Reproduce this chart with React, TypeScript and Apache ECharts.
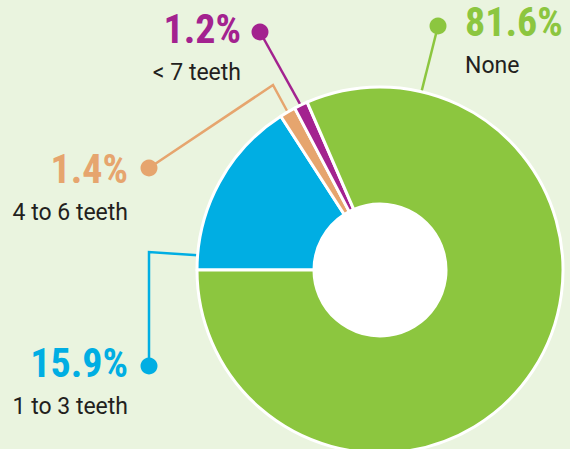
import React, { useEffect, useRef } from "react";
import * as echarts from "echarts";

const categories = ["1 to 3 teeth", "4 to 6 teeth", "< 7 teeth", "None"];
const values = [15.9, 1.4, 1.2, 81.6];
const valueLabels = ["15.9%", "1.4%", "1.2%", "81.6%"];
const colors = ["#00aee3", "#e6a56e", "#a3228f", "#8cc63f"];

const CX = 380;
const CY = 270;
const R_OUT = 183;
const R_IN = 66;

// annotation layout: label anchor, align, leader start angle (deg), elbows, dot
const annos = [
  { x: 128, y: 342, align: "right", angle: 175.4, via: [[149, 252]], dot: [149, 366] },
  { x: 128, y: 148, align: "right", angle: 120.3, via: [[273, 85]], dot: [149, 168] },
  { x: 241, y: 8, align: "right", angle: 115.7, via: [], dot: [260, 32] },
  { x: 465, y: 1, align: "left", angle: 76.9, via: [], dot: [438, 26] },
];

const startPoint = (deg: number) => {
  const a = (deg * Math.PI) / 180;
  return [CX + R_OUT * Math.cos(a), CY - R_OUT * Math.sin(a)];
};

export default function App() {
  const ref = useRef<HTMLDivElement>(null);
  useEffect(() => {
    document.body.style.margin = "0";
    const chart = echarts.init(ref.current!, undefined, { renderer: "svg" });
    const pctFont = "'Roboto Condensed', 'Liberation Sans Narrow', 'Arial Narrow', Roboto, sans-serif";
    const rich: any = {
      n: { fontSize: 23, fontFamily: "Roboto, sans-serif", color: "#231f20", lineHeight: 44 },
    };
    colors.forEach((c, i) => {
      rich["p" + i] = { fontSize: 40, fontWeight: "bold", fontFamily: pctFont, color: c, lineHeight: 42 };
    });
    chart.setOption({
      animation: false,
      backgroundColor: "#eaf4df",
      graphic: annos.map((a, i) => ({
        type: "circle",
        shape: { cx: a.dot[0], cy: a.dot[1], r: 8.5 },
        style: { fill: colors[i] },
        z: 10,
      })),
      series: [
        {
          type: "pie",
          center: [CX, CY],
          radius: [R_IN, R_OUT],
          startAngle: 180,
          clockwise: true,
          avoidLabelOverlap: false,
          itemStyle: { borderColor: "#ffffff", borderWidth: 3 },
          data: categories.map((c, i) => ({
            name: c,
            value: values[i],
            itemStyle: { color: colors[i] },
            labelLine: { lineStyle: { color: colors[i], width: 2.5 } },
          })),
          label: {
            show: true,
            position: "outside",
            formatter: (p: any) => `{p${p.dataIndex}|${valueLabels[p.dataIndex]}}\n{n|${p.name}}`,
            rich,
          },
          labelLine: { show: true, length: 10, length2: 10 },
          labelLayout: (p: any) => {
            const a = annos[p.dataIndex];
            const pts = [startPoint(a.angle), ...a.via, a.dot];
            return {
              x: a.x,
              y: a.y,
              align: a.align,
              verticalAlign: "top",
              labelLinePoints: pts,
            };
          },
        },
        {
          type: "pie",
          center: [CX, CY],
          radius: [0, R_IN],
          silent: true,
          label: { show: false },
          labelLine: { show: false },
          itemStyle: { color: "#ffffff" },
          data: [{ value: 1, name: "hole" }],
        },
      ],
    });
    return () => chart.dispose();
  }, []);
  return <div ref={ref} style={{ width: 570, height: 449 }} />;
}
